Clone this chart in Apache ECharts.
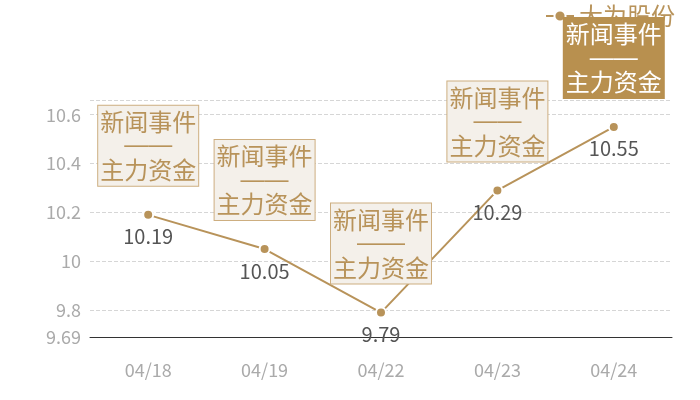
<!DOCTYPE html>
<html>
<head>
<meta charset="utf-8">
<script src="https://cdn.jsdelivr.net/npm/echarts@6/dist/echarts.min.js"></script>
<style>html,body{margin:0;padding:0;background:#fff}#c{width:700px;height:400px}</style>
</head>
<body>
<div id="c"></div>
<script>
const categories = ['04/18', '04/19', '04/22', '04/23', '04/24'];
const prices = [10.19, 10.05, 9.79, 10.29, 10.55];
const seriesName = '大为股份';
const boxTop = '新闻事件';
const boxDash = '——';
const boxBottom = '主力资金';
const highlightIndex = 4;

const font = '"Noto Sans CJK SC", "Noto Sans", sans-serif';
const gold = '#b8935a';

function boxRich(color) {
  return {
    t: {color: color, fontSize: 24, lineHeight: 24, fontFamily: font},
    d: {color: color, fontSize: 24, lineHeight: 24, fontFamily: '"Liberation Sans", "DejaVu Sans", sans-serif'}
  };
}

const chart = echarts.init(document.getElementById('c'), null, {renderer: 'canvas'});
chart.setOption({
  animation: false,
  backgroundColor: '#fff',
  textStyle: {fontFamily: font},
  legend: {
    data: [seriesName],
    top: -1,
    right: 20,
    itemWidth: 28,
    itemHeight: 14,
    itemGap: 5,
    textStyle: {color: gold, fontSize: 24, fontFamily: font}
  },
  grid: {left: 90, right: 28, top: 100, bottom: 63},
  xAxis: {
    type: 'category',
    data: categories,
    axisLine: {lineStyle: {color: '#333', width: 1}},
    axisTick: {show: false},
    axisLabel: {color: '#aaa', fontSize: 18, margin: 24, fontFamily: font},
    splitLine: {show: false}
  },
  yAxis: {
    type: 'value',
    min: 9.69,
    max: 10.66,
    axisLine: {show: false},
    axisTick: {show: false},
    axisLabel: {color: '#aaa', fontSize: 18, margin: 9, fontFamily: font},
    splitLine: {lineStyle: {color: '#d6d6d6', type: 'dashed'}}
  },
  series: [
    {
      name: seriesName,
      type: 'line',
      z: 3,
      data: prices,
      symbol: 'circle',
      symbolSize: 10,
      itemStyle: {color: gold, borderColor: '#fff', borderWidth: 2},
      lineStyle: {color: gold, width: 2},
      label: {
        show: true,
        position: 'bottom',
        distance: 6,
        color: '#555',
        fontSize: 20,
        fontFamily: font
      }
    },
    {
      name: '事件',
      type: 'line',
      z: 10,
      silent: true,
      data: prices.map((v, i) => i === highlightIndex ? {
        value: v,
        label: {backgroundColor: '#b8904f', borderColor: '#b8904f', rich: boxRich('#fff')}
      } : v),
      symbol: 'circle',
      symbolSize: 8,
      itemStyle: {color: 'transparent', borderWidth: 0},
      lineStyle: {opacity: 0, width: 0},
      label: {
        show: true,
        position: 'top',
        distance: 25,
        formatter: '{t|' + boxTop + '}\n{d|' + boxDash + '}\n{t|' + boxBottom + '}',
        rich: boxRich(gold),
        backgroundColor: '#f4f0ea',
        borderColor: '#cdae80',
        borderWidth: 1,
        padding: [4, 2, 4, 2],
        align: 'center'
      }
    }
  ]
});
</script>
</body>
</html>
